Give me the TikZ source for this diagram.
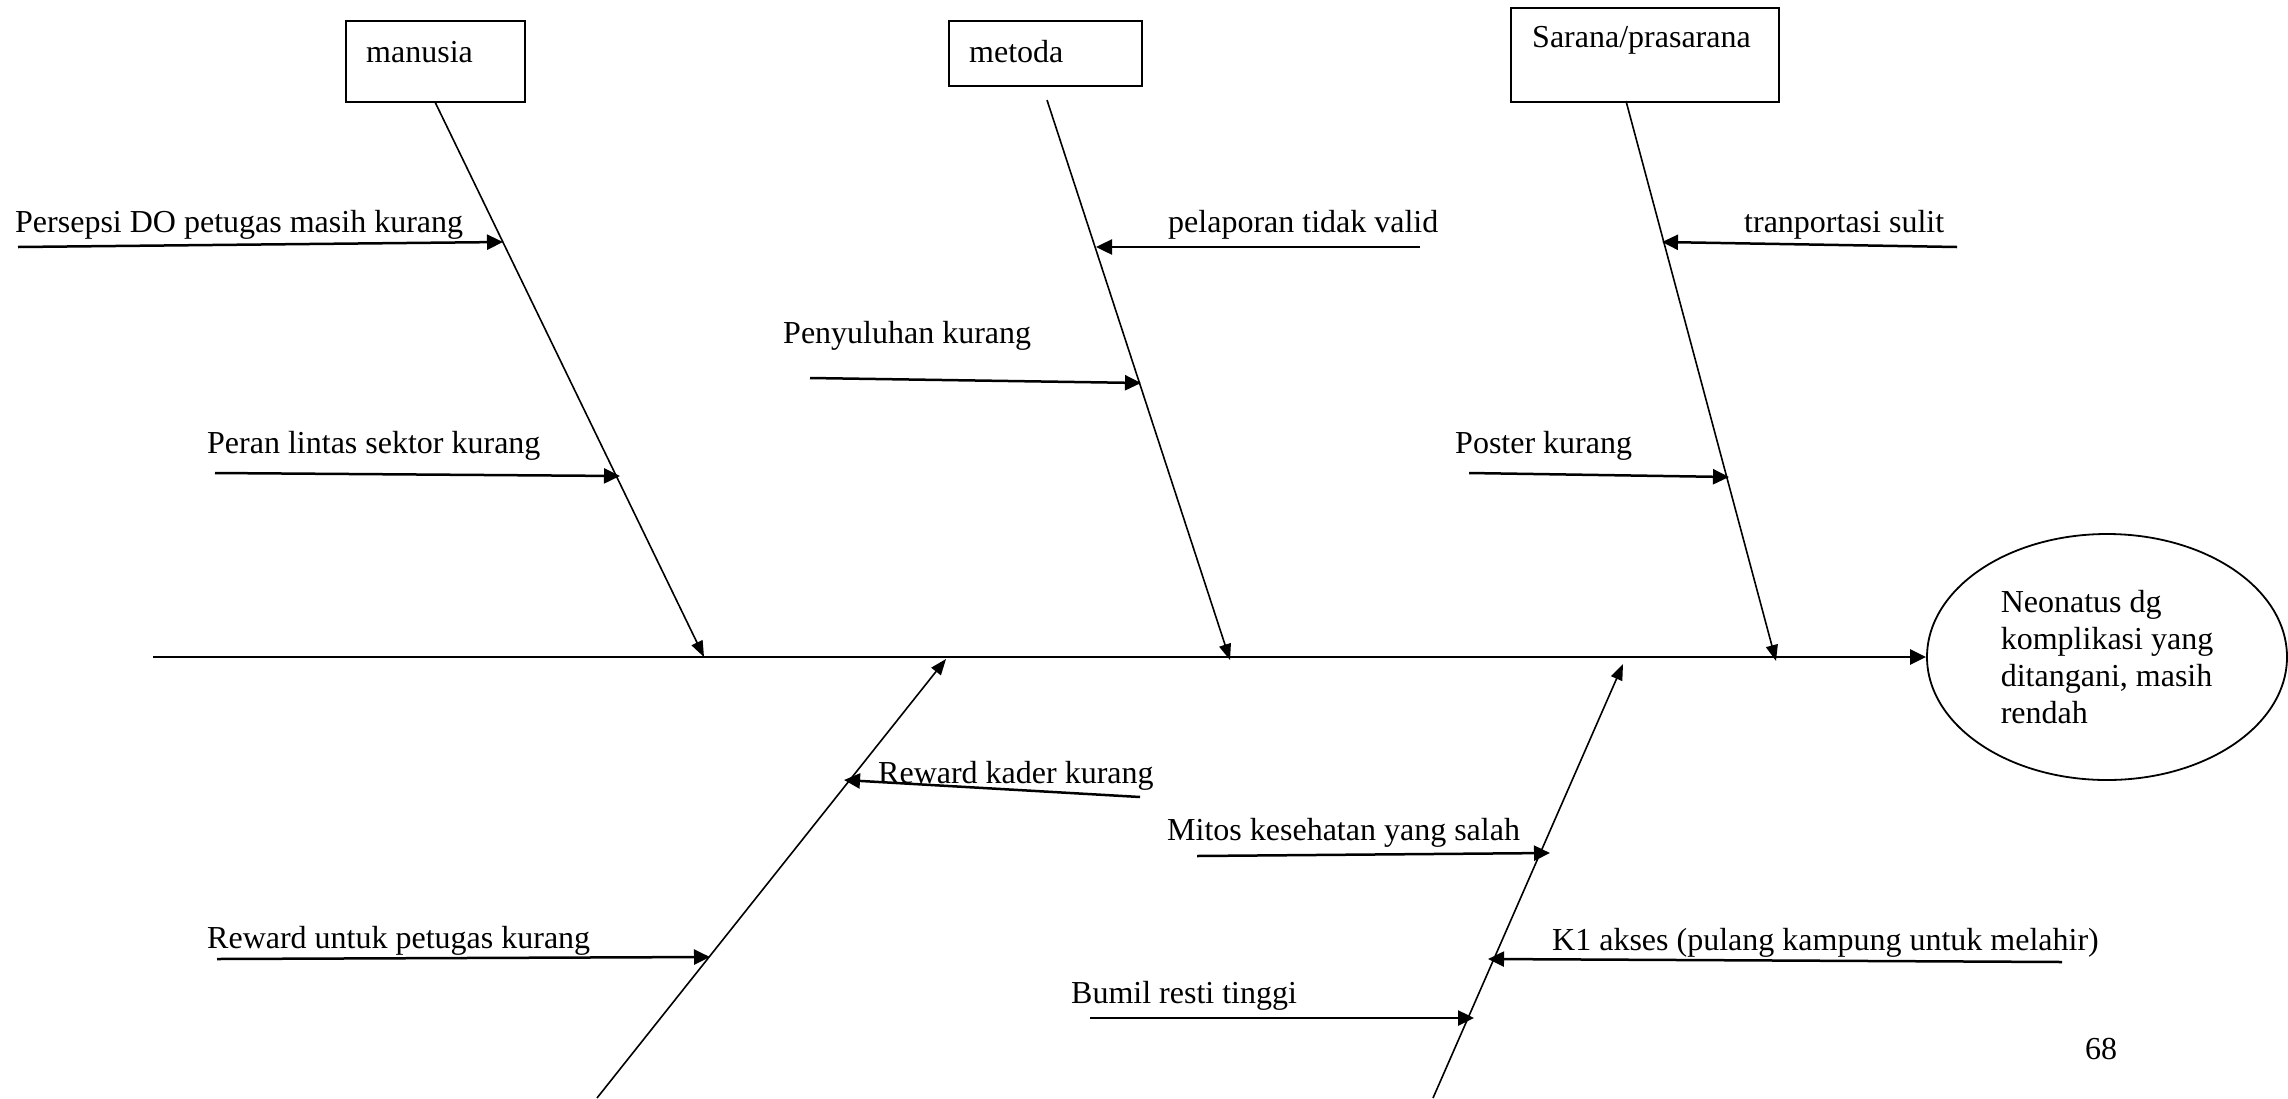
\documentclass[tikz,border=0pt]{standalone}
\usepackage{fontspec}
\setmainfont{Liberation Serif}
\usetikzlibrary{arrows.meta,shapes.geometric}
\begin{document}
\begin{tikzpicture}[x=1pt,y=-1pt,
  font=\fontsize{32}{37}\selectfont,
  catbox/.style={draw, line width=1.8pt, rectangle, inner sep=0pt, anchor=north west},
  lbl/.style={anchor=base west, inner sep=0pt},
  bone/.style={line width=1.6pt, -{Triangle[length=16pt,width=12pt]}},
  subarrow/.style={line width=2.5pt, -{Triangle[length=16pt,width=15pt]}},
  spine/.style={line width=2.6pt, -{Triangle[length=16pt,width=15pt]}}
]
\useasboundingbox (0,0) rectangle (2288,1098);

% category boxes
\node[catbox, minimum width=179pt, minimum height=81pt] (man) at (345,20) {};
\node[catbox, minimum width=193pt, minimum height=65pt] (met) at (948,20) {};
\node[catbox, minimum width=268pt, minimum height=94pt] (sar) at (1510,7) {};
\node[lbl] (manT) at (366,62) {manusia};
\node[lbl] (metT) at (969,62) {metoda};
\node[lbl] (sarT) at (1532,47) {Sarana/prasarana};

% effect
\node[ellipse, draw, line width=1.8pt, minimum width=360pt, minimum height=246pt,
      align=left, inner sep=0pt] (eff) at (2107,657)
  {Neonatus dg\\komplikasi yang\\ditangani, masih\\rendah};

% spine
\coordinate (spS) at (153,657);
\draw[spine] (spS) -- (eff.west);

% bone coordinates
\coordinate (b1e) at (704,657);
\coordinate (b2s) at (1047,100);
\coordinate (b2e) at (1230,660);
\coordinate (b3s) at (1626,101);
\coordinate (b3e) at (1776,661);
\coordinate (b4s) at (597,1098);
\coordinate (b4e) at (946,659);
\coordinate (b5s) at (1433,1098);
\coordinate (b5e) at (1623,664);

\draw[bone] (man.south) -- (b1e);
\draw[bone] (b2s) -- (b2e);
\draw[bone] (b3s) -- (b3e);
\draw[bone] (b4s) -- (b4e);
\draw[bone] (b5s) -- (b5e);

% sub-causes: start and end points
\coordinate (p1s) at (18,247);   \coordinate (p1e) at (503,242);
\coordinate (p2s) at (215,473);  \coordinate (p2e) at (620,476);
\coordinate (p3s) at (1420,247); \coordinate (p3e) at (1096,247);
\coordinate (p4s) at (810,378);  \coordinate (p4e) at (1141,383);
\coordinate (p5s) at (1957,247); \coordinate (p5e) at (1662,242);
\coordinate (p6s) at (1469,473); \coordinate (p6e) at (1729,477);
\coordinate (p7s) at (1140,797); \coordinate (p7e) at (844,780);
\coordinate (p8s) at (217,959);  \coordinate (p8e) at (710,957);
\coordinate (p9s) at (1197,856); \coordinate (p9e) at (1550,853);
\coordinate (p10s) at (2062,962); \coordinate (p10e) at (1488,959);
\coordinate (p11s) at (1090,1018); \coordinate (p11e) at (1474,1018);

\foreach \i in {1,...,11} {\draw[subarrow] (p\i s) -- (p\i e);}

% labels
\node[lbl] (t1) at (15,232) {Persepsi DO petugas masih kurang};
\node[lbl] (t2) at (207,453) {Peran lintas sektor kurang};
\node[lbl] (t3) at (1168,232) {pelaporan tidak valid};
\node[lbl] (t4) at (783,343) {Penyuluhan kurang};
\node[lbl] (t5) at (1744,232) {tranportasi sulit};
\node[lbl] (t6) at (1455,453) {Poster kurang};
\node[lbl] (t7) at (878,783) {Reward kader kurang};
\node[lbl] (t8) at (207,948) {Reward untuk petugas kurang};
\node[lbl] (t9) at (1167,840) {Mitos kesehatan yang salah};
\node[lbl] (t10) at (1552,950) {K1 akses (pulang kampung untuk melahir)};
\node[lbl] (t11) at (1071,1003) {Bumil resti tinggi};
\node[lbl] (pg) at (2085,1059) {68};
\end{tikzpicture}
\end{document}
